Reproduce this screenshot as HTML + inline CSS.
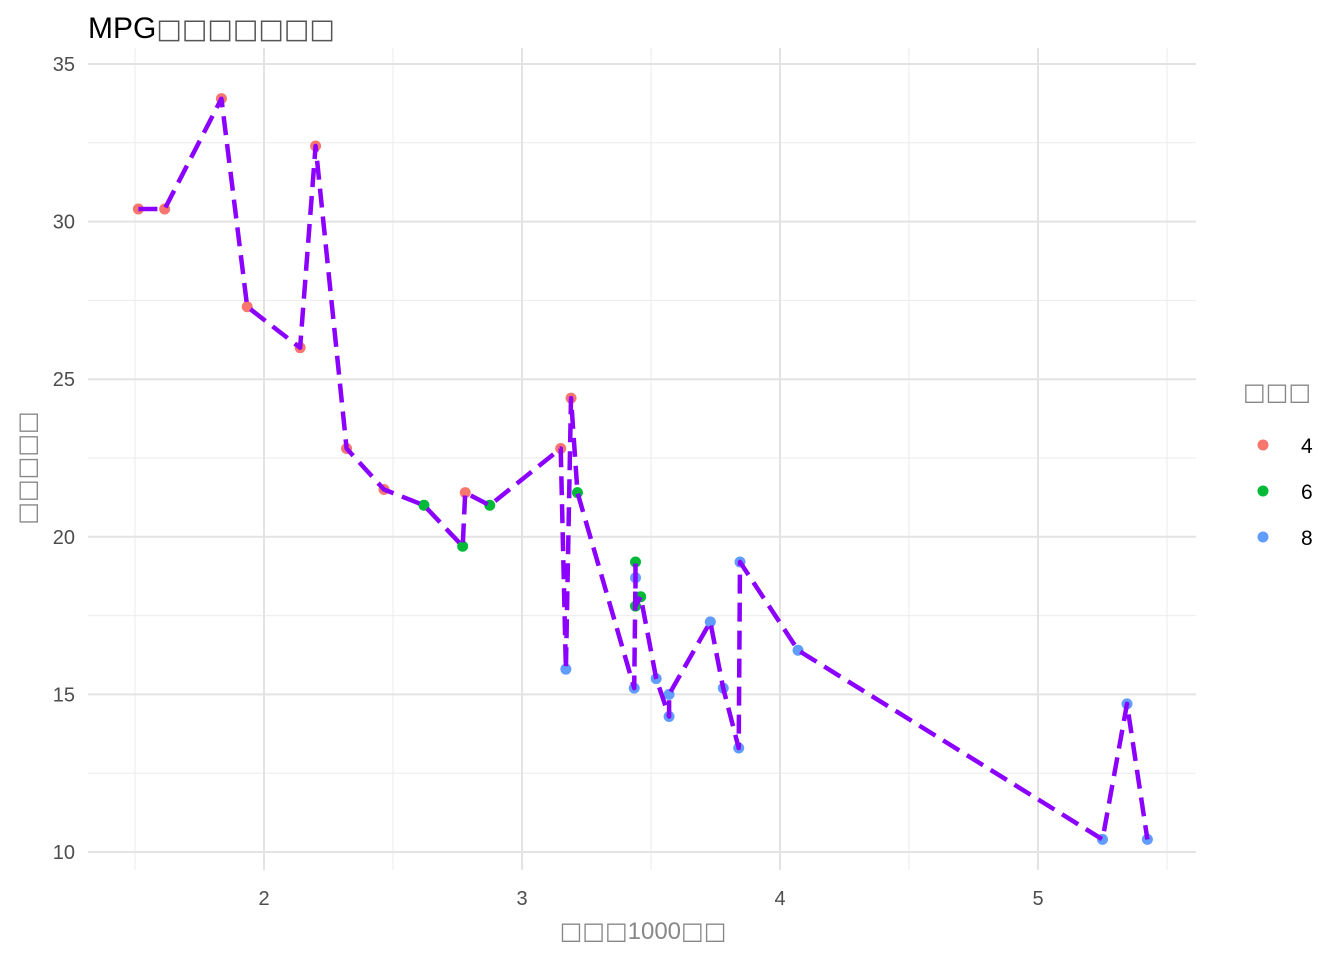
<!DOCTYPE html>
<html><head><meta charset="utf-8">
<style>
html,body{margin:0;padding:0;background:#fff;}
body{width:1344px;height:960px;overflow:hidden;font-family:"Liberation Sans","DejaVu Sans",sans-serif;}
</style></head>
<body>
<svg id="chart" width="1344" height="960" xmlns="http://www.w3.org/2000/svg" font-family="Liberation Sans, DejaVu Sans, sans-serif">
<text x="88" y="38" font-size="30" fill="#000">MPG<tspan font-family="DejaVu Sans" font-size="27" fill="#555">□□□□□□□</tspan></text>
<g id="grid"></g>
<g id="axes"></g>
<g id="marks"></g>
<text x="643" y="939" font-size="24" text-anchor="middle" fill="#888"><tspan font-family="DejaVu Sans">□□□</tspan>1000<tspan font-family="DejaVu Sans">□□</tspan></text>
<text transform="translate(35,468) rotate(-90)" font-size="24" text-anchor="middle" fill="#888" font-family="DejaVu Sans">□□□□□</text>
<g>
<text x="1243" y="400" font-size="24" fill="#888" font-family="DejaVu Sans">□□□</text>
<g id="legend-items"></g>
</g>
</svg>
<script>
const wt  = [1.513,1.615,1.835,1.935,2.14,2.2,2.32,2.465,2.62,2.77,2.78,2.875,3.15,3.17,3.19,3.215,3.435,3.44,3.44,3.44,3.46,3.52,3.57,3.57,3.73,3.78,3.84,3.845,4.07,5.25,5.345,5.424];
const mpg = [30.4,30.4,33.9,27.3,26.0,32.4,22.8,21.5,21.0,19.7,21.4,21.0,22.8,15.8,24.4,21.4,15.2,18.7,19.2,17.8,18.1,15.5,14.3,15.0,17.3,15.2,13.3,19.2,16.4,10.4,14.7,10.4];
const cyl = [4,4,4,4,4,4,4,4,6,6,4,6,4,8,4,6,8,8,6,6,6,8,8,8,8,8,8,8,8,8,8,8];
const xTicks = [2,3,4,5];
const xMinor = [1.5,2.5,3.5,4.5,5.5];
const yTicks = [10,15,20,25,30,35];
const yMinor = [12.5,17.5,22.5,27.5,32.5];
const cylLevels = [4,6,8];
const cylColors = {4:"#F8766D",6:"#00BA38",8:"#619CFF"};

const X = v => 264 + (v-2)*258;
const Y = v => 852 - (v-10)*31.52;
const NS="http://www.w3.org/2000/svg";
function mk(tag, attrs, parent){const e=document.createElementNS(NS,tag);for(const k in attrs)e.setAttribute(k,attrs[k]);parent.appendChild(e);return e;}
const grid=document.getElementById('grid'), axes=document.getElementById('axes'), marks=document.getElementById('marks');
const L=88, R=1196, T=48, B=870;
yMinor.forEach(v=>{const l=mk('line',{x1:L,x2:R,y1:Y(v),y2:Y(v),stroke:'#ebebeb','stroke-width':1},grid);

});
xMinor.forEach(v=>{const l=mk('line',{x1:X(v),x2:X(v),y1:T,y2:B,stroke:'#ebebeb','stroke-width':1},grid);

});
yTicks.forEach(v=>{const l=mk('line',{x1:L,x2:R,y1:Y(v),y2:Y(v),stroke:'#e3e3e3','stroke-width':2},grid);


const t=mk('text',{x:75,y:Y(v)+7,'font-size':20,'text-anchor':'end',fill:'#4d4d4d'},axes);t.textContent=v;

});
xTicks.forEach(v=>{const l=mk('line',{x1:X(v),x2:X(v),y1:T,y2:B,stroke:'#e3e3e3','stroke-width':2},grid);


const t=mk('text',{x:X(v),y:905,'font-size':20,'text-anchor':'middle',fill:'#4d4d4d'},axes);t.textContent=v;

});
wt.forEach((w,i)=>{const c=mk('circle',{cx:X(w),cy:Y(mpg[i]),r:5.5,fill:cylColors[cyl[i]]},marks);

});
const pts=wt.map((w,i)=>X(w).toFixed(1)+','+Y(mpg[i]).toFixed(1)).join(' ');
const pl=mk('polyline',{points:pts,fill:'none',stroke:'#8B00FF','stroke-width':4.5,'stroke-dasharray':'19 9','stroke-linejoin':'round'},marks);


const li=document.getElementById('legend-items');
cylLevels.forEach((c,i)=>{const y=445+i*46;
const d=mk('circle',{cx:1263,cy:y,r:5.5,fill:cylColors[c]},li);


const t=mk('text',{x:1301,y:y+8,'font-size':21,fill:'#000'},li);t.textContent=c;

});
</script>
</body></html>
